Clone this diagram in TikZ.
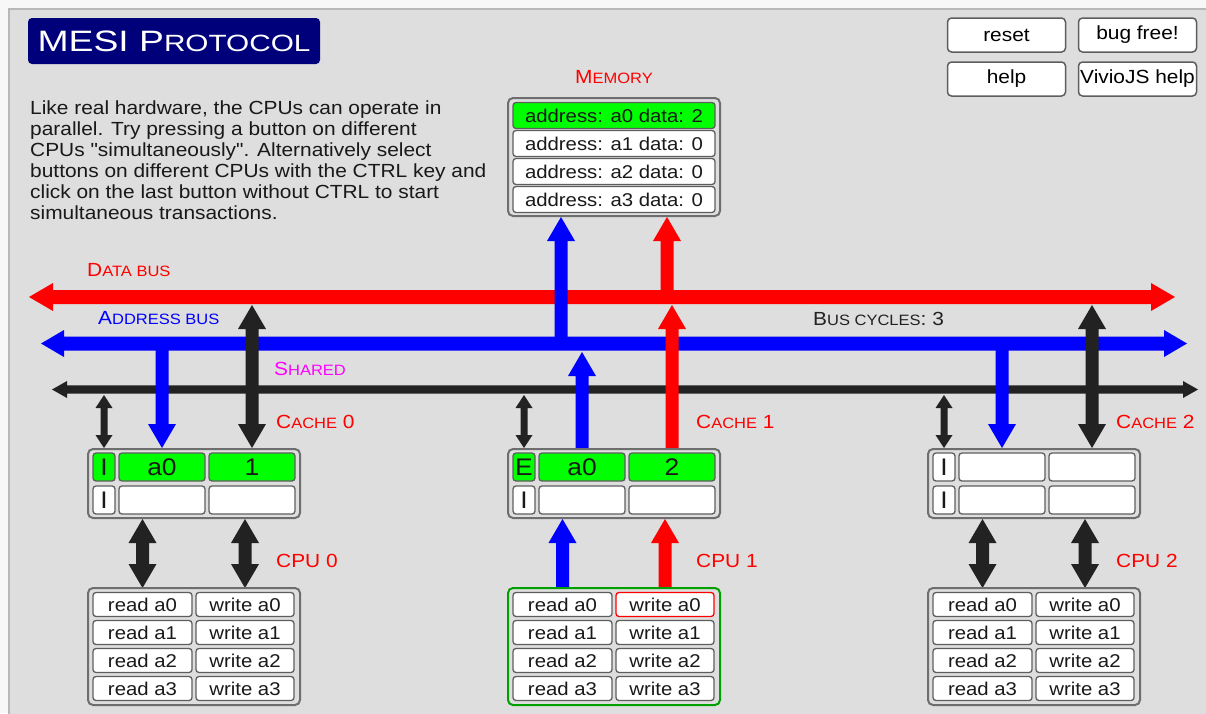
\documentclass[tikz,border=0pt]{standalone}
\usepackage{fontspec}
\setmainfont{Liberation Sans}[FakeStretch=1.1,Ligatures=TeXOff]
\definecolor{bg}{HTML}{DEDEDE}
\definecolor{frame}{HTML}{B8B8B8}
\definecolor{navy}{HTML}{00007A}
\definecolor{busred}{HTML}{FF0000}
\definecolor{busblue}{HTML}{0000FF}
\definecolor{blk}{HTML}{222222}
\definecolor{cellb}{HTML}{5E5E5E}
\definecolor{groupb}{HTML}{6E6E6E}
\definecolor{hit}{HTML}{00FF00}
\definecolor{selg}{HTML}{00A000}
\definecolor{mag}{HTML}{FF00FF}
\newcommand\fs[1]{\fontsize{#1}{#1}\selectfont}
\newcommand\bs[2]{{\fs{19}#1}{\fs{15}#2}}
\newcommand\sw{7}\newcommand\hw{14}\newcommand\hl{24}
% vertical single arrow: colour, x, start y, tip y
\newcommand\varr[4]{%
  \pgfmathsetmacro\hb{#4+(2*(#3>#4)-1)*\hl}%
  \fill[#1] (#2-\sw,#3) -- (#2-\sw,\hb) -- (#2-\hw,\hb) -- (#2,#4) -- (#2+\hw,\hb) -- (#2+\sw,\hb) -- (#2+\sw,#3) -- cycle;}
% vertical double arrow: colour, x, top tip, bottom tip
\newcommand\dvarr[4]{%
  \pgfmathsetmacro\ha{#3+\hl}\pgfmathsetmacro\hb{#4-\hl}%
  \fill[#1] (#2,#3) -- (#2+\hw,\ha) -- (#2+\sw,\ha) -- (#2+\sw,\hb) -- (#2+\hw,\hb) -- (#2,#4) -- (#2-\hw,\hb) -- (#2-\sw,\hb) -- (#2-\sw,\ha) -- (#2-\hw,\ha) -- cycle;}
% horizontal double arrow: colour, y, left tip, right tip
\newcommand\dharr[4]{%
  \pgfmathsetmacro\ha{#3+\hl}\pgfmathsetmacro\hb{#4-\hl}%
  \fill[#1] (#3,#2) -- (\ha,#2-\hw) -- (\ha,#2-\sw) -- (\hb,#2-\sw) -- (\hb,#2-\hw) -- (#4,#2) -- (\hb,#2+\hw) -- (\hb,#2+\sw) -- (\ha,#2+\sw) -- (\ha,#2+\hw) -- cycle;}
\tikzset{
  cell/.style={draw=cellb, fill=white, rounded corners=3pt, line width=1.3pt, inner sep=0pt, text=black!90, font=\fs{18.5}},
  group/.style={draw=groupb, rounded corners=5pt, line width=2pt, inner sep=0pt},
  btn/.style={draw=cellb, fill=white, rounded corners=4pt, line width=1.5pt, inner sep=0pt, minimum width=118pt, minimum height=34pt, font=\fs{19}},
  lab/.style={inner sep=0pt, anchor=west}
}
\newcommand\cachebox[7]{%
  \begin{scope}[xshift=#2pt]
  \node[group, minimum width=212pt, minimum height=69pt] (cache#1) at (194,483.5) {};
  \node[cell, fill=#3, minimum width=22pt, minimum height=28pt, font=\fs{24}] (c#1s1) at (104,467) {#4};
  \node[cell, fill=#3, minimum width=86pt, minimum height=28pt, font=\fs{24}] (c#1a1) at (162,467) {#5};
  \node[cell, fill=#3, minimum width=86pt, minimum height=28pt, font=\fs{24}] (c#1d1) at (252,467) {#6};
  \node[cell, minimum width=22pt, minimum height=28pt, font=\fs{24}] (c#1s2) at (104,500) {#7};
  \node[cell, minimum width=86pt, minimum height=28pt] (c#1a2) at (162,500) {};
  \node[cell, minimum width=86pt, minimum height=28pt] (c#1d2) at (252,500) {};
  \end{scope}}
\newcommand\cpubox[4]{%
  \begin{scope}[xshift=#2pt]
  \node[group, draw=#3, minimum width=212pt, minimum height=117pt] (cpu#1) at (194,646.5) {};
  \node[cell, minimum width=99pt, minimum height=24pt] (r#1a) at (142.5,604.5) {read a0};
  \node[cell, draw=#4, minimum width=98pt, minimum height=24pt] (w#1a) at (245,604.5) {write a0};
  \node[cell, minimum width=99pt, minimum height=24pt] (r#1b) at (142.5,632.5) {read a1};
  \node[cell, minimum width=98pt, minimum height=24pt] (w#1b) at (245,632.5) {write a1};
  \node[cell, minimum width=99pt, minimum height=24pt] (r#1c) at (142.5,660.5) {read a2};
  \node[cell, minimum width=98pt, minimum height=24pt] (w#1c) at (245,660.5) {write a2};
  \node[cell, minimum width=99pt, minimum height=24pt] (r#1d) at (142.5,688.5) {read a3};
  \node[cell, minimum width=98pt, minimum height=24pt] (w#1d) at (245,688.5) {write a3};
  \end{scope}}
\begin{document}
\begin{tikzpicture}[x=1pt,y=-1pt]
\useasboundingbox (0,0) rectangle (1206,713);
\fill[white!97!black] (0,0) rectangle (1206,713);
\filldraw[fill=bg, draw=frame, line width=1.5pt] (9,9) rectangle (1220,725);
% title
\node[fill=navy, rounded corners=4pt, minimum width=292pt, minimum height=46pt, inner sep=0pt, text=white] (title) at (174,41)
  {\scalebox{1.15}[1]{{\fs{29.5}MESI P}{\fs{23.5}ROTOCOL}}};
% buttons
\node[btn] (reset) at (1006.5,35) {reset};
\node[btn] (bugfree) at (1137.5,35) {bug free!};
\node[btn] (help) at (1006.5,79) {help};
\node[btn] (vhelp) at (1137.5,79) {ViviοJS help};
% paragraph
\node[inner sep=0pt, anchor=north west, align=left, font=\fontsize{19}{21}\selectfont, text=black!90] (para) at (30,101)
  {Like real hardware, the CPUs can operate in\\parallel. Try pressing a button on different\\CPUs "simultaneously". Alternatively select\\buttons on different CPUs with the CTRL key and\\click on the last button without CTRL to start\\simultaneous transactions.};
% labels
\node[inner sep=0pt, text=busred] (lmem) at (614,77) {\bs{M}{EMORY}};
\node[lab, text=busred] (ldata) at (87,270) {\bs{D}{ATA BUS}};
\node[lab, text=busblue] (laddr) at (98,318) {\bs{A}{DDRESS BUS}};
\node[lab, text=mag] (lshared) at (274,369) {\bs{S}{HARED}};
\node[lab, text=blk] (lcyc) at (813,319) {\bs{B}{US CYCLES}{\fs{19}: 3}};
\node[lab, text=busred] (lc0) at (276,422) {\bs{C}{ACHE}{\fs{19} 0}};
\node[lab, text=busred] (lc1) at (696,422) {\bs{C}{ACHE}{\fs{19} 1}};
\node[lab, text=busred] (lc2) at (1116,422) {\bs{C}{ACHE}{\fs{19} 2}};
\node[lab, text=busred, font=\fs{19}] (lp0) at (276,561) {CPU 0};
\node[lab, text=busred, font=\fs{19}] (lp1) at (696,561) {CPU 1};
\node[lab, text=busred, font=\fs{19}] (lp2) at (1116,561) {CPU 2};
% buses
\renewcommand\sw{7}\renewcommand\hw{14}\renewcommand\hl{24}
\dharr{busred}{297}{29}{1175}
\renewcommand\sw{7}\renewcommand\hw{13.5}\renewcommand\hl{23}
\dharr{busblue}{343.5}{41}{1187}
\renewcommand\sw{4.2}\renewcommand\hw{8.5}\renewcommand\hl{15}
\dharr{blk}{389.5}{52}{1198}
% bus <-> cache / memory arrows
\renewcommand\sw{6.5}\renewcommand\hw{14}\renewcommand\hl{24}
\varr{busblue}{561}{343.5}{217}
\varr{busred}{667}{297}{217}
\varr{busblue}{162}{343.5}{448}
\dvarr{blk}{252}{305}{448}
\varr{busblue}{582}{449}{352}
\varr{busred}{672}{449}{305}
\varr{busblue}{1002}{343.5}{448}
\dvarr{blk}{1092}{305}{448}
% cache <-> cpu arrows
\dvarr{blk}{142.5}{519}{588}
\dvarr{blk}{245}{519}{588}
\varr{busblue}{562.5}{588}{519}
\varr{busred}{665}{588}{519}
\dvarr{blk}{982.5}{519}{588}
\dvarr{blk}{1085}{519}{588}
% shared lines
\renewcommand\sw{3.5}\renewcommand\hw{8.5}\renewcommand\hl{13}
\dvarr{blk}{104}{395}{448}
\dvarr{blk}{524}{395}{448}
\dvarr{blk}{944}{395}{448}
% memory
\node[group, minimum width=212pt, minimum height=118pt] (mem) at (614,157) {};
\node[cell, fill=hit, minimum width=202pt, minimum height=26pt] (m0) at (614,115.5) {address: a0 data: 2};
\node[cell, minimum width=202pt, minimum height=26pt] (m1) at (614,143.5) {address: a1 data: 0};
\node[cell, minimum width=202pt, minimum height=26pt] (m2) at (614,171.5) {address: a2 data: 0};
\node[cell, minimum width=202pt, minimum height=26pt] (m3) at (614,199.5) {address: a3 data: 0};
% caches
\cachebox{0}{0}{hit}{I}{a0}{1}{I}
\cachebox{1}{420}{hit}{E}{a0}{2}{I}
\cachebox{2}{840}{white}{I}{}{}{I}
% cpus
\cpubox{0}{0}{groupb}{cellb}
\cpubox{1}{420}{selg}{busred}
\cpubox{2}{840}{groupb}{cellb}
\end{tikzpicture}
\end{document}
